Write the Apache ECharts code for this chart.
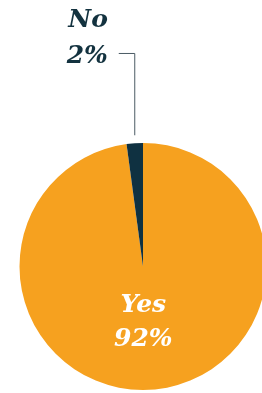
<!DOCTYPE html>
<html>
<head>
<meta charset="utf-8">
<script src="https://cdn.jsdelivr.net/npm/echarts@6/dist/echarts.min.js"></script>
<style>
  html, body { margin: 0; padding: 0; background: #fff; }
  #chart { width: 262px; height: 393px; }
</style>
</head>
<body>
<div id="chart"></div>
<script>
// answers, in drawing order (clockwise from 12 o'clock)
const answers = ['Yes', 'No'];
const shares = [92, 2];
const sliceColors = ['#f6a11f', '#0f3141'];

const chart = echarts.init(document.getElementById('chart'));

const fontFamily = '"DejaVu Serif", serif';

chart.setOption({
  animation: false,
  series: [{
    type: 'pie',
    center: [143, 266.5],
    radius: 123.5,
    startAngle: 90,
    clockwise: true,
    silent: true,
    data: answers.map((name, i) => ({
      name: name,
      value: shares[i],
      itemStyle: { color: sliceColors[i] },
      label: i === 0 ? {
        position: 'inside',
        color: '#fff',
        fontFamily: fontFamily,
        fontWeight: 'bold',
        fontStyle: 'italic',
        fontSize: 25,
        lineHeight: 34
      } : {
        position: 'outside',
        color: '#13323f',
        fontFamily: fontFamily,
        fontWeight: 'bold',
        fontStyle: 'italic',
        fontSize: 25,
        lineHeight: 36
      },
      labelLine: i === 0 ? { show: false } : {
        show: true,
        length: 88,
        length2: 15,
        lineStyle: { color: '#4b5b64', width: 1 }
      }
    })),
    label: {
      formatter: p => p.name + '\n' + p.value + '%'
    },
    // keep the leader going straight up from the slice
    labelLayout: function (params) {
      if (params.dataIndex === 0) {
        return { dy: -9, dx: -4 };
      }
      const pts = params.labelLinePoints;
      if (pts) {
        pts[0][1] -= 8;
        pts[1][0] = pts[0][0];
        pts[1][1] -= 2;
        pts[2][1] = pts[1][1];
        pts[2][0] = pts[1][0] - 16;
        return { dy: -17, dx: -1, labelLinePoints: pts };
      }
      return { dy: -17, dx: -1 };
    }
  }]
});

window.addEventListener('resize', function () {
  chart.resize();
});
</script>
</body>
</html>
